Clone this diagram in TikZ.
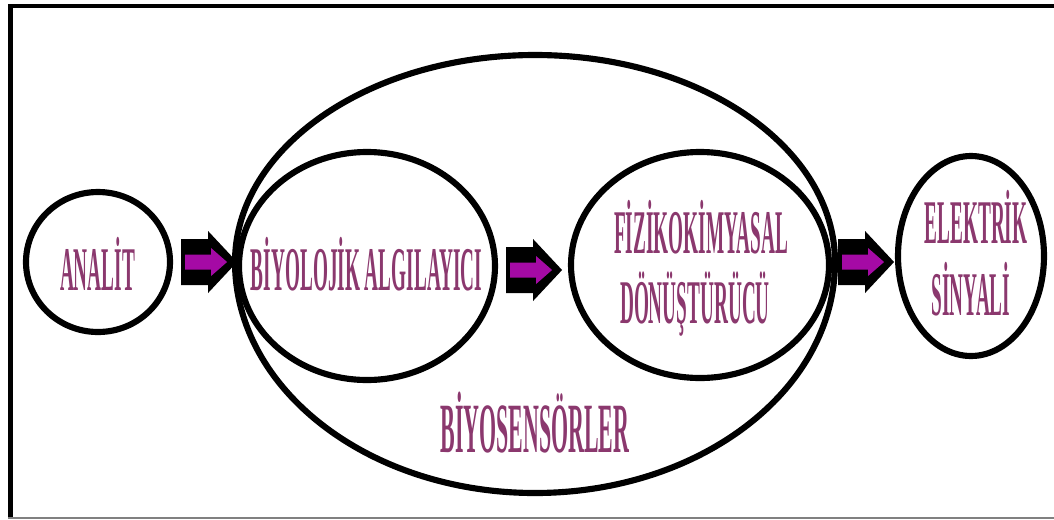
\documentclass[tikz,border=0pt]{standalone}
\usepackage{fontspec}
\usetikzlibrary{shapes.geometric}
\newfontfamily\labelfont[FakeStretch=0.31]{Liberation Serif}
\definecolor{labelcol}{RGB}{139,56,110}
\definecolor{arrowpurple}{RGB}{165,10,165}

\begin{document}
\begin{tikzpicture}[x=0.75pt,y=-0.75pt,
  ring/.style={draw=black,line width=4.6pt,shape=ellipse,inner sep=0pt},
  lbl/.style={text=labelcol,font=\labelfont\bfseries\fontsize{46.6}{52}\selectfont,anchor=base,inner sep=0pt},
  blockarrow/.pic={
    \fill[black] (0,-23) -- (27,-23) -- (27,-31) -- (56,0) -- (27,31) -- (27,23) -- (0,23) -- cycle;
    \fill[arrowpurple] (4,-7.5) -- (30,-7.5) -- (30,-14) -- (46,0) -- (30,14) -- (30,7.5) -- (4,7.5) -- cycle;
  }
]
\useasboundingbox (0,0) rectangle (1054,519);

% frame
\draw[line width=3pt] (8,6) -- (1054,6);
\draw[line width=3.75pt] (10.5,4) -- (10.5,519);
\draw[gray,line width=1.5pt] (8,517.5) -- (1054,517.5);

% outer ring: flatter above, deeper below
\coordinate (bigw) at (235,262);
\draw[line width=4.6pt] (bigw)
  arc[start angle=180, end angle=0, x radius=225pt, y radius=155.25pt]
  arc[start angle=360, end angle=180, x radius=225pt, y radius=173.25pt] -- cycle;

% inner rings
\node[ring,minimum width=108pt,minimum height=105pt] (analit) at (98,262) {};
\node[ring,minimum width=192pt,minimum height=171pt] (bio) at (367,266) {};
\node[ring,minimum width=193.5pt,minimum height=169.5pt] (fiz) at (700,265) {};
\node[ring,minimum width=109.5pt,minimum height=150pt] (elek) at (971,256) {};

% block arrows between the rings
\pic at ([xshift=6pt]analit.east) {blockarrow};
\pic at ([xshift=6pt,yshift=-3pt]bio.east) {blockarrow};
\pic at ([xshift=4.5pt,yshift=2.25pt]fiz.east) {blockarrow};

% labels
\node[lbl] (tanalit) at (97.5,290) {ANALİT};
\node[lbl] (tbio) at (366.5,290) {BİYOLOJİK ALGILAYICI};
\node[lbl] (tfiz1) at (701,253) {FİZİKOKİMYASAL};
\node[lbl] (tfiz2) at (695,323) {DÖNÜŞTÜRÜCÜ};
\node[lbl] (tel1) at (976,243) {ELEKTRİK};
\node[lbl] (tel2) at (971,315) {SİNYALİ};
\node[lbl,font=\labelfont\bfseries\fontsize{53}{60}\selectfont] (tbig) at (535,452) {BİYOSENSÖRLER};
\end{tikzpicture}
\end{document}
